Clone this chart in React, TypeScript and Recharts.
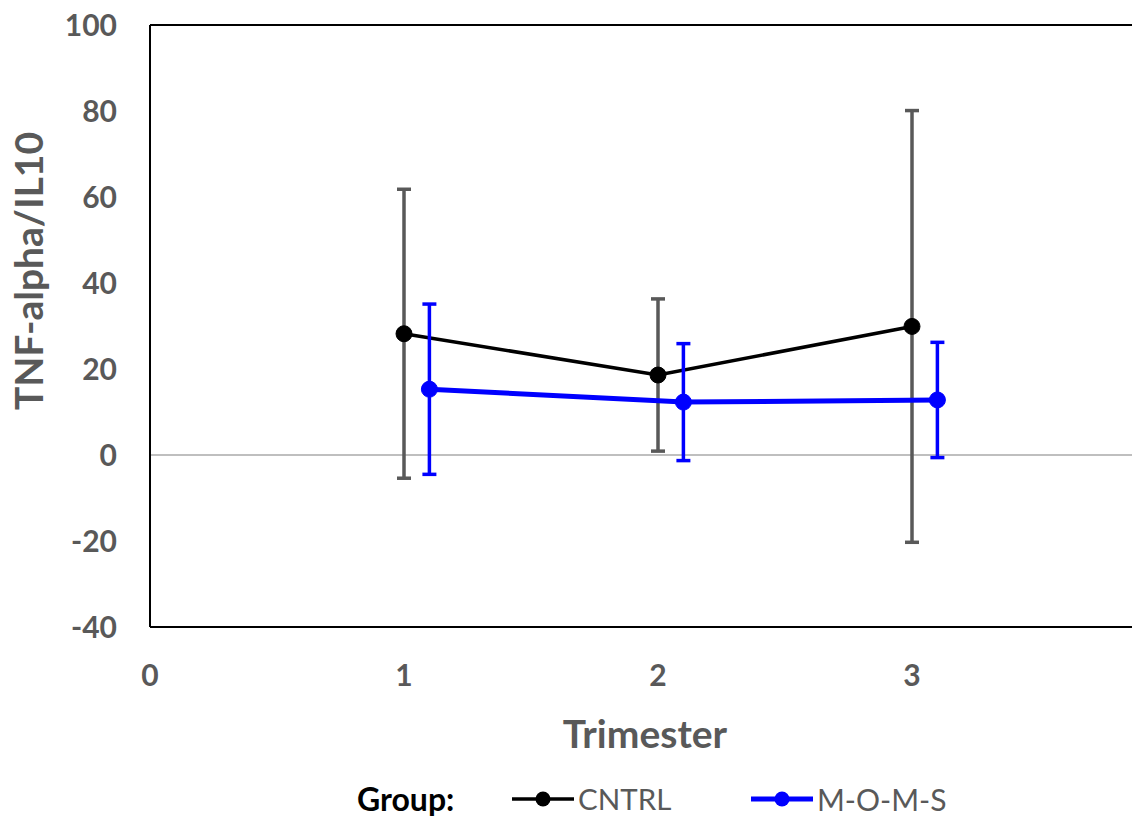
import { ComposedChart, ErrorBar, Label, Legend, Line, ReferenceLine, XAxis, YAxis } from "recharts";

const trimesters = [1, 2, 3];
const cntrlMean = [28.2, 18.6, 29.9];
const cntrlErr = [33.6, 17.7, 50.2];

const momsX = [1.1, 2.1, 3.1];
const momsMean = [15.3, 12.3, 12.8];
const momsErr = [19.8, 13.6, 13.4];

const xTicks = [0, 1, 2, 3];
const yTicks = [-40, -20, 0, 20, 40, 60, 80, 100];

const cntrlData = trimesters.map((x, i) => ({ x, y: cntrlMean[i], err: cntrlErr[i] }));
const momsData = momsX.map((x, i) => ({ x, y: momsMean[i], err: momsErr[i] }));

const FONT = "Lato, 'Open Sans', sans-serif";
const GREY = "#595959";

function GroupLegend() {
  const item = (color: string, width: number, text: string, left: number, size: number) => (
    <div style={{ position: "absolute", left, top: 0, display: "flex", alignItems: "center", height: 30 }}>
      <svg width={62} height={20}>
        <line x1={0} y1={10} x2={62} y2={10} stroke={color} strokeWidth={width} />
        <circle cx={31} cy={10} r={7.5} fill={color} />
      </svg>
      <span style={{ color: GREY, fontSize: size, marginLeft: 4, lineHeight: "30px" }}>{text}</span>
    </div>
  );
  return (
    <div style={{ position: "relative", width: 1132, height: 30, fontFamily: FONT }}>
      <span style={{ position: "absolute", left: 357, top: 0, lineHeight: "30px", fontSize: 32, fontWeight: 700, color: "#000" }}>
        Group:
      </span>
      {item("#000000", 3.5, "CNTRL", 512, 29.5)}
      {item("#0000ff", 5, "M-O-M-S", 751, 30)}
    </div>
  );
}

export default function App() {
  return (
    <div style={{ position: "fixed", left: 0, top: 0, width: 1132, height: 818, overflow: "hidden", background: "#fff" }}>
      <ComposedChart
        width={1180}
        height={818}
        margin={{ top: 25, right: 14, bottom: 101, left: 50 }}
        style={{ fontFamily: FONT }}
      >
        <XAxis
          type="number"
          dataKey="x"
          domain={[0, 4]}
          ticks={xTicks}
          allowDataOverflow
          height={60}
          tickLine={false}
          tickSize={0}
          tickMargin={38}
          axisLine={{ stroke: "#000", strokeWidth: 2 }}
          tick={{ fill: GREY, fontSize: 30, fontWeight: 700 }}
        >
          <Label
            content={() => (
              <text x={645} y={733} textAnchor="middle" dominantBaseline="central" fill={GREY} fontSize={39} fontWeight={700} fontFamily={FONT}>
                Trimester
              </text>
            )}
          />
        </XAxis>
        <YAxis
          type="number"
          domain={[-40, 100]}
          ticks={yTicks}
          width={100}
          tickLine={false}
          tickSize={0}
          tickMargin={33}
          axisLine={{ stroke: "#000", strokeWidth: 2 }}
          tick={{ fill: GREY, fontSize: 30, fontWeight: 700 }}
        >
          <Label
            content={() => (
              <text
                x={28}
                y={271}
                transform="rotate(-90, 28, 271)"
                textAnchor="middle"
                dominantBaseline="central"
                fill={GREY}
                fontSize={39}
                fontWeight={700}
                fontFamily={FONT}
              >
                TNF-alpha/IL10
              </text>
            )}
          />
        </YAxis>
        <ReferenceLine y={100} stroke="#000" strokeWidth={2} />
        <ReferenceLine y={0} stroke="#bfbfbf" strokeWidth={2} />
        <Legend
          verticalAlign="bottom"
          content={() => <GroupLegend />}
          wrapperStyle={{ position: "absolute", left: 0, top: 784, width: 1132, height: 30 }}
        />
        <Line
          data={cntrlData}
          dataKey="y"
          name="CNTRL"
          stroke="#000"
          strokeWidth={3.5}
          dot={{ r: 8, fill: "#000", stroke: "#000", strokeWidth: 1 }}
          activeDot={false}
          isAnimationActive={false}
        >
          <ErrorBar dataKey="err" direction="y" width={7} stroke={GREY} strokeWidth={3.5} isAnimationActive={false} />
        </Line>
        <Line
          data={momsData}
          dataKey="y"
          name="M-O-M-S"
          stroke="#0000ff"
          strokeWidth={5}
          dot={{ r: 8, fill: "#0000ff", stroke: "#0000ff", strokeWidth: 1 }}
          activeDot={false}
          isAnimationActive={false}
        >
          <ErrorBar dataKey="err" direction="y" width={7} stroke="#0000ff" strokeWidth={3.5} isAnimationActive={false} />
        </Line>
      </ComposedChart>
    </div>
  );
}
